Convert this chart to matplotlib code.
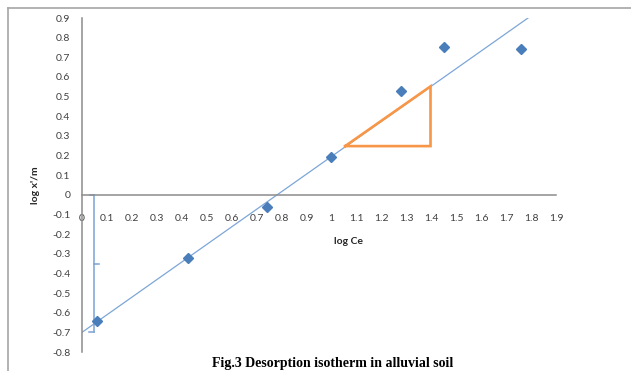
import numpy as np
import matplotlib
matplotlib.use('Agg')
import matplotlib.pyplot as plt
from matplotlib.lines import Line2D

# Data
log_ce = [0.06, 0.425, 0.74, 1.0, 1.28, 1.45, 1.76]
log_xm = [-0.64, -0.32, -0.06, 0.19, 0.53, 0.75, 0.74]

# Trend line (as drawn in the figure)
trend_slope = 0.895
trend_intercept = -0.70
trend_x = [0.0, 1.8]

# Orange slope triangle
tri_x = [1.055, 1.397, 1.397, 1.055]
tri_y = [0.248, 0.248, 0.552, 0.248]

# Blue bracket marking the intercept
brace_x = 0.05
brace_top = 0.0
brace_bottom = -0.70

x_ticks = np.round(np.arange(0, 1.91, 0.1), 1)
y_ticks = np.round(np.arange(-0.8, 0.91, 0.1), 1)


def fmt(v):
    return f'{v + 0.0:g}'


W, H = 631, 371
fig = plt.figure(figsize=(W / 100, H / 100), dpi=100)

# axes so that x 0..1.9 -> px 82..556 and y 0.9..-0.8 -> px 18..352
ax = fig.add_axes([82 / W, (H - 352) / H, 474 / W, 334 / H])
ax.set_xlim(0, 1.9)
ax.set_ylim(-0.8, 0.9)

axis_col = '#8c8c8c'
for s in ['top', 'right']:
    ax.spines[s].set_visible(False)
ax.spines['bottom'].set_position(('data', 0))
ax.spines['left'].set_position(('data', 0))
ax.spines['bottom'].set_color(axis_col)
ax.spines['left'].set_color(axis_col)
ax.spines['bottom'].set_linewidth(1.1)
ax.spines['left'].set_linewidth(1.1)

ax.set_xticks(x_ticks)
ax.set_xticklabels([fmt(v) for v in x_ticks])
ax.set_yticks(y_ticks)
ax.set_yticklabels([fmt(v) for v in y_ticks])
ax.tick_params(axis='x', length=0, pad=14, labelsize=7.5, labelcolor='#404040')
ax.tick_params(axis='y', length=0, pad=8.5, labelsize=7.5, labelcolor='#404040')
for lbl in ax.get_xticklabels() + ax.get_yticklabels():
    lbl.set_family('Lato')

# trend line
tx = np.array(trend_x)
ax.plot(tx, trend_slope * tx + trend_intercept, color='#7da6d8', lw=0.9, zorder=2)

# data points
ax.plot(log_ce, log_xm, linestyle='none', marker='D', markersize=5.5,
        color='#4a7ebb', zorder=3)

# slope triangle
ax.plot(tri_x, tri_y, color='#f79646', lw=1.9, solid_joinstyle='miter', zorder=2)

# bracket
bc = '#7aa3d6'
ax.plot([brace_x, brace_x], [brace_top, brace_bottom], color=bc, lw=1.1, zorder=2)
ax.plot([brace_x - 0.018, brace_x], [brace_top, brace_top], color=bc, lw=1.1)
ax.plot([brace_x - 0.022, brace_x], [brace_bottom, brace_bottom], color=bc, lw=1.1)
mid = (brace_top + brace_bottom) / 2
ax.plot([brace_x, brace_x + 0.02], [mid, mid], color=bc, lw=1.1)

# axis titles
fig.text(348 / W, 1 - 241 / H, 'log Ce', ha='center', va='center',
         fontsize=7.5, fontweight='bold', family='Lato', color='#262626')
fig.text(35 / W, 1 - 185 / H, "log x'/m", ha='center', va='center', rotation=90,
         fontsize=7.5, fontweight='bold', family='Lato', color='#262626')

# caption
fig.text(333 / W, 1 - 363 / H, 'Fig.3 Desorption isotherm in alluvial soil',
         ha='center', va='center', fontsize=10, fontweight='bold',
         family='Liberation Serif', color='black')

# outer frame (top and left edges)
fig.add_artist(Line2D([8 / W, 1], [1 - 8 / H, 1 - 8 / H], color='#a6a6a6', lw=1.2))
fig.add_artist(Line2D([8 / W, 8 / W], [1 - 8 / H, 0], color='#a6a6a6', lw=1.2))

fig.savefig('out.png', dpi=100)
